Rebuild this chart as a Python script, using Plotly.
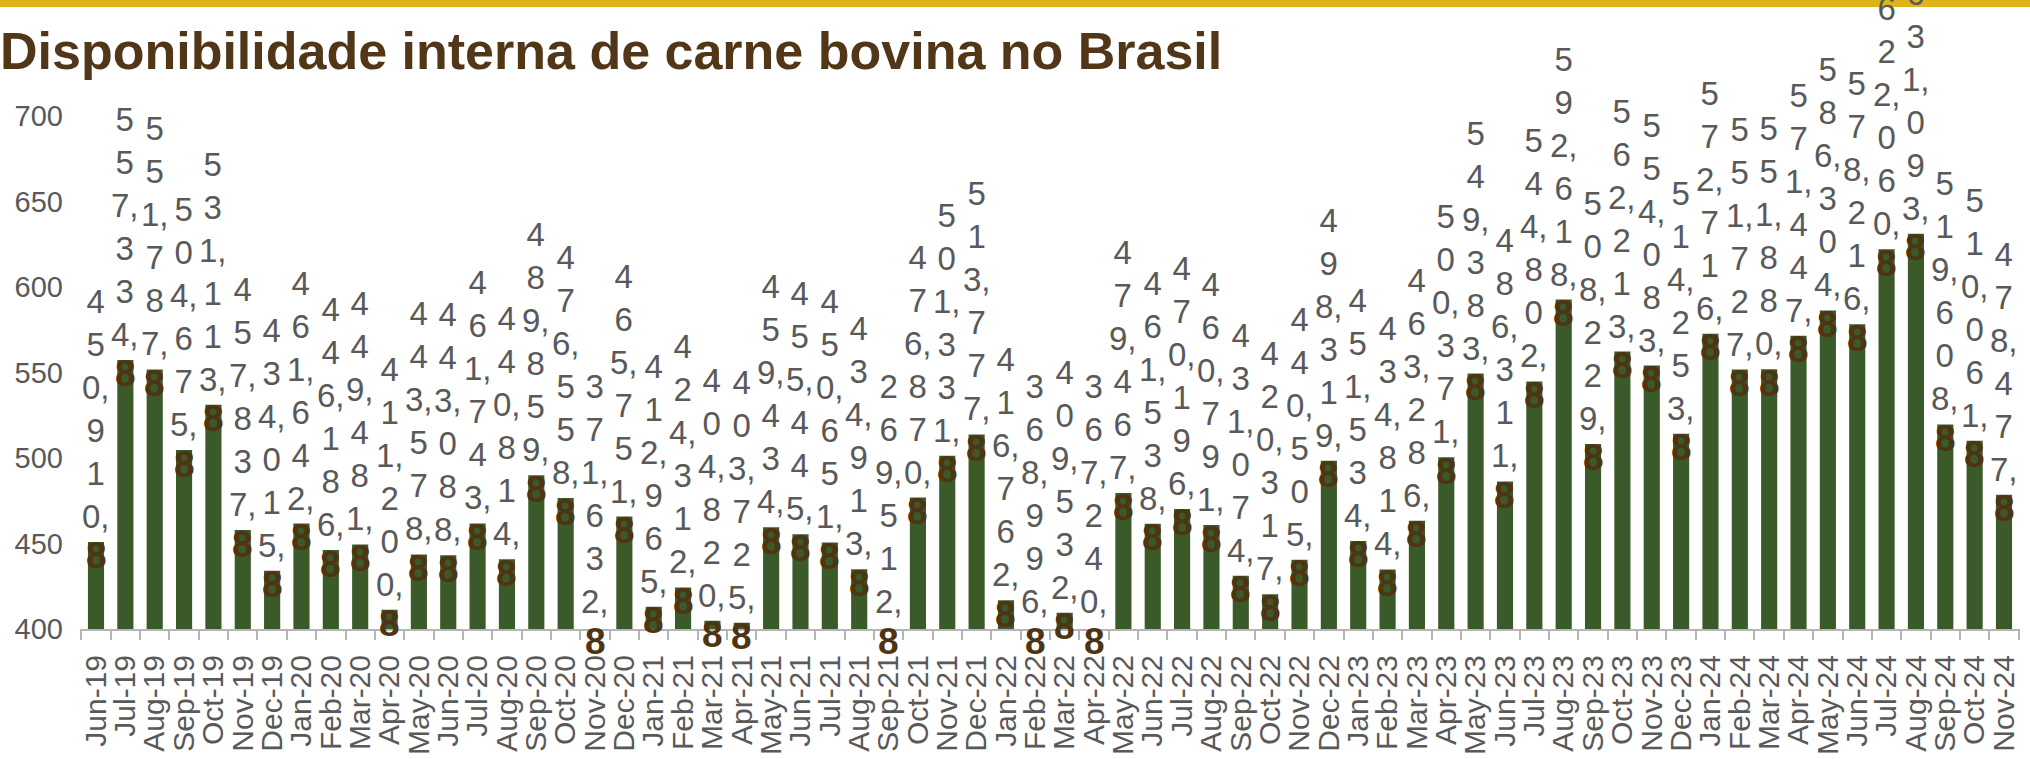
import plotly.graph_objects as go

months = ["Jun-19", "Jul-19", "Aug-19", "Sep-19", "Oct-19", "Nov-19", "Dec-19",
          "Jan-20", "Feb-20", "Mar-20", "Apr-20", "May-20", "Jun-20", "Jul-20", "Aug-20", "Sep-20", "Oct-20", "Nov-20", "Dec-20",
          "Jan-21", "Feb-21", "Mar-21", "Apr-21", "May-21", "Jun-21", "Jul-21", "Aug-21", "Sep-21", "Oct-21", "Nov-21", "Dec-21",
          "Jan-22", "Feb-22", "Mar-22", "Apr-22", "May-22", "Jun-22", "Jul-22", "Aug-22", "Sep-22", "Oct-22", "Nov-22", "Dec-22",
          "Jan-23", "Feb-23", "Mar-23", "Apr-23", "May-23", "Jun-23", "Jul-23", "Aug-23", "Sep-23", "Oct-23", "Nov-23", "Dec-23",
          "Jan-24", "Feb-24", "Mar-24", "Apr-24", "May-24", "Jun-24", "Jul-24", "Aug-24", "Sep-24", "Oct-24", "Nov-24"]

values_2019 = [450.910, 557.334, 551.787, 504.675, 531.113, 457.837, 434.015]
values_2020 = [461.642, 446.186, 449.481, 411.200, 443.578, 443.088, 461.743, 440.814, 489.859, 476.558, 371.632, 465.751]
values_2021 = [412.965, 424.312, 404.820, 403.725, 459.434, 455.445, 450.651, 434.913, 269.512, 476.870, 501.331, 513.777]
values_2022 = [416.762, 368.996, 409.532, 367.240, 479.467, 461.538, 470.196, 460.791, 431.074, 420.317, 440.505, 498.319]
values_2023 = [451.534, 434.814, 463.286, 500.371, 549.383, 486.311, 544.802, 592.618, 508.229, 562.213, 554.083, 514.253]
values_2024 = [572.716, 551.727, 551.880, 571.447, 586.304, 578.216, 622.060, 631.093, 519.608, 510.061, 478.477]

values = values_2019 + values_2020 + values_2021 + values_2022 + values_2023 + values_2024

y_ticks = [400, 450, 500, 550, 600, 650, 700]
title_text = "Disponibilidade interna de carne bovina no Brasil"

BAR = "#3B5A2A"
BROWN = "#4E3412"
GRAY = "#595959"

fig = go.Figure()
fig.add_trace(go.Bar(x=months, y=values, marker=dict(color=BAR, line=dict(width=0)),
                     hoverinfo="skip"))


def vertical_label(v):
    s = f"{v:.3f}".replace(".", ",") + ","
    lines = []
    for ch in s:
        if ch == "," and lines:
            lines[-1] += ch
        else:
            lines.append(ch)
    return "<br>".join(lines)


annotations = []
for m, v in zip(months, values):
    anchor = max(v, 401)
    annotations.append(dict(x=m, y=anchor, xref="x", yref="y", text=vertical_label(v),
                            showarrow=False, yanchor="bottom", xanchor="center",
                            yshift=5, align="center",
                            font=dict(family="Liberation Sans, Arial", size=33, color=GRAY)))
    annotations.append(dict(x=m, y=anchor, xref="x", yref="y", text="<b>8</b>",
                            showarrow=False, yanchor="middle", xanchor="center",
                            yshift=-14,
                            font=dict(family="Liberation Sans, Arial", size=37, color=BROWN)))

fig.update_layout(
    width=2030, height=759,
    margin=dict(l=80, r=10, t=116, b=130, autoexpand=False),
    paper_bgcolor="white", plot_bgcolor="white",
    showlegend=False, bargap=0.45,
    title=dict(text=f"<b>{title_text}</b>", x=0.0, xanchor="left", xref="container",
               y=1 - 51 / 759, yanchor="middle", yref="container",
               font=dict(family="Liberation Sans, Arial", size=52, color="#523618")),
    xaxis=dict(type="category", tickmode="array", tickvals=months, ticktext=months,
               tickangle=-90, showgrid=False, zeroline=False,
               showline=True, linecolor="#B5B5B5", linewidth=2,
               ticks="outside", ticklen=9, tickwidth=1.5, tickcolor="#B5B5B5",
               tickson="boundaries", ticklabelstandoff=12,
               tickfont=dict(family="Liberation Sans, Arial", size=30, color=GRAY)),
    yaxis=dict(range=[400, 700], tickvals=y_ticks, showgrid=False, zeroline=False,
               showline=False, ticks="", ticklabelstandoff=16,
               tickfont=dict(family="Liberation Sans, Arial", size=29, color=GRAY)),
    annotations=annotations,
    shapes=[dict(type="rect", xref="paper", yref="paper",
                 x0=-80 / 1940, x1=1 + 10 / 1940, y0=1 + 109 / 513, y1=1 + 117 / 513,
                 fillcolor="#DDB51A", line=dict(width=0), layer="above")],
)

fig.write_html("out.html", config={"displayModeBar": False},
               post_script="document.body.style.margin='0';document.body.style.padding='0';")
